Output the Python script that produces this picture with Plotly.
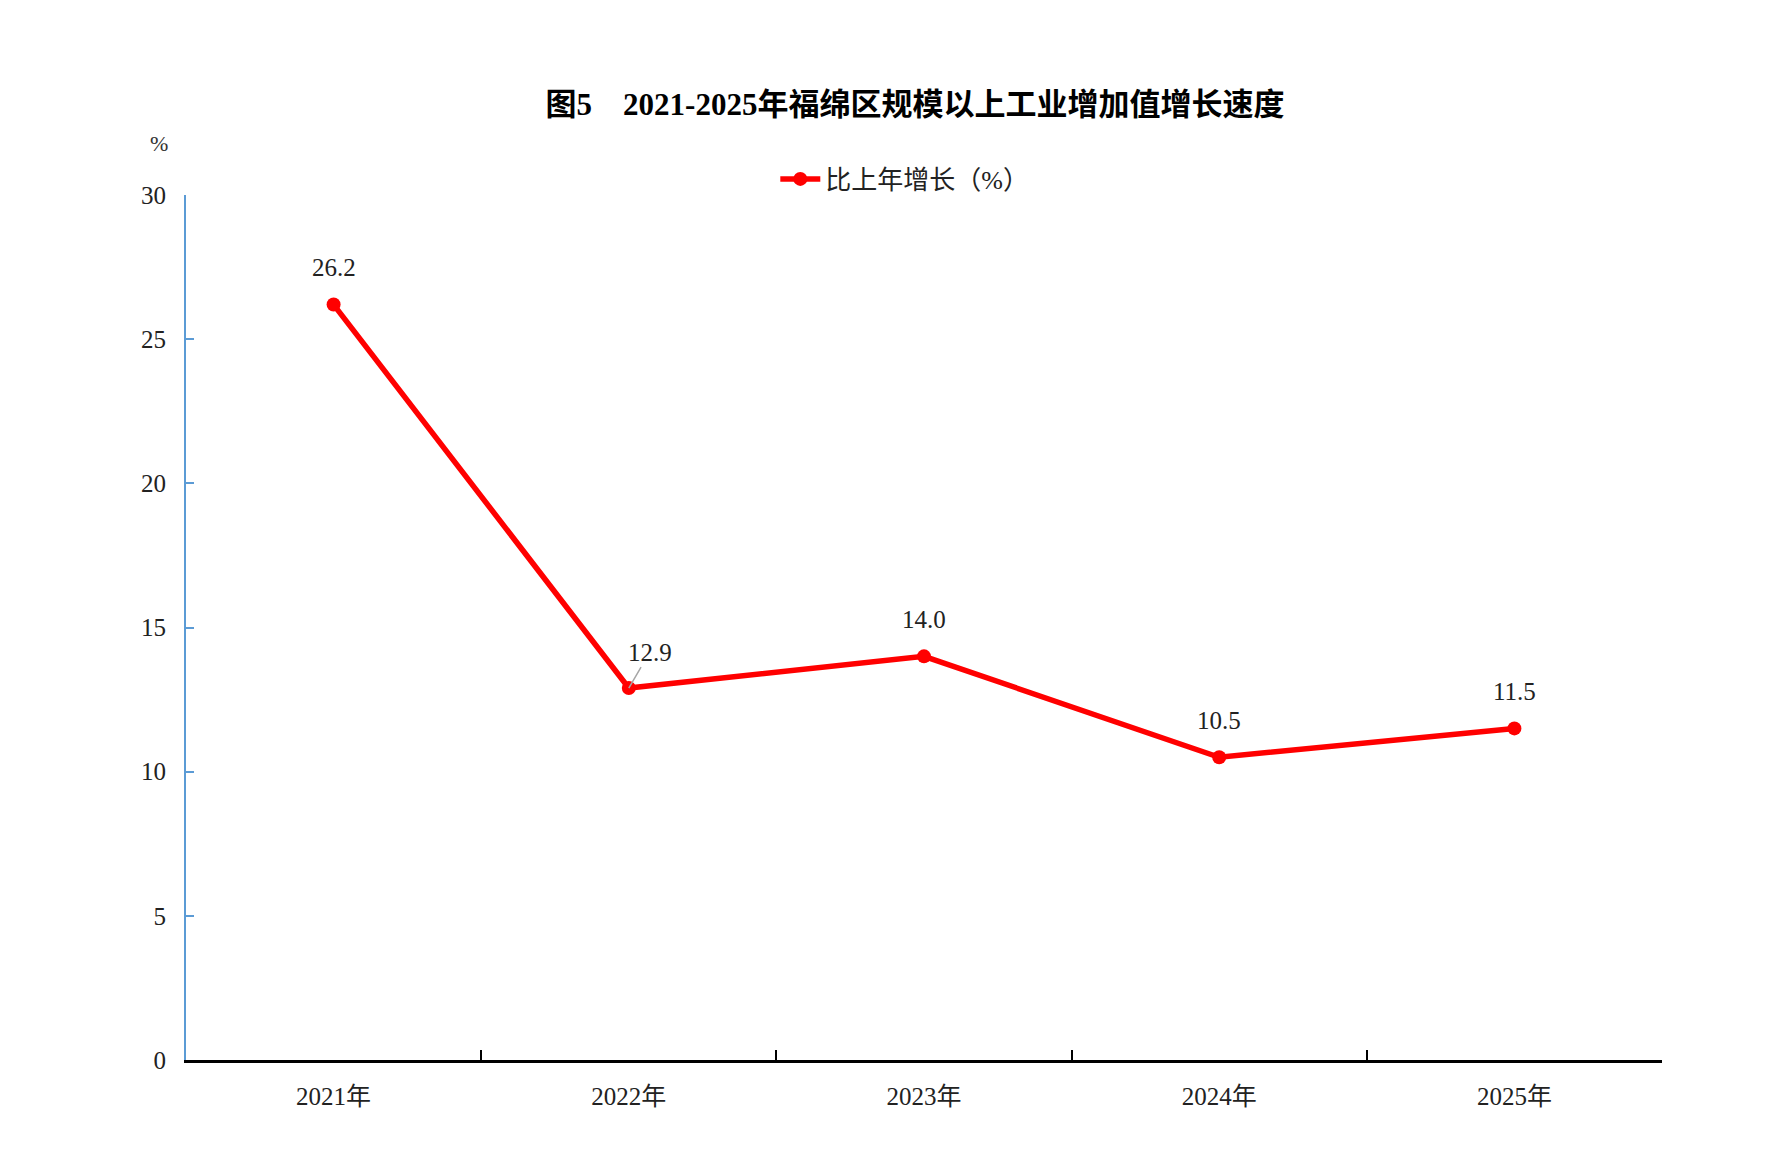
import plotly.graph_objects as go

# data
years = ["2021年", "2022年", "2023年", "2024年", "2025年"]
growth = [26.2, 12.9, 14.0, 10.5, 11.5]
series_name = "比上年增长（%）"
title_text = "<b>图5　2021-2025年福绵区规模以上工业增加值增长速度</b>"
y_ticks = [0, 5, 10, 15, 20, 25, 30]

FONT = "Liberation Serif, Noto Sans CJK SC"
RED = "#FF0000"

fig = go.Figure()
fig.add_trace(go.Scatter(x=years, y=growth, mode="lines+markers",
                         name=series_name,
                         line=dict(color=RED, width=5.5),
                         marker=dict(color=RED, size=14)))

# value labels, 2022 has a small leader line
for yr, v in zip(years, growth):
    if yr == "2022年":
        fig.add_annotation(x=yr, y=v, text=f"{v:.1f}", showarrow=True,
                           arrowhead=0, arrowwidth=1.5, arrowcolor="#A6A6A6",
                           ax=21, ay=-36, font=dict(size=25, color="#222"))
    else:
        fig.add_annotation(x=yr, y=v, text=f"{v:.1f}", showarrow=False,
                           yshift=37, font=dict(size=25, color="#222"))

# % unit above the y axis
fig.add_annotation(x=-0.026, y=1.076, xref="paper", yref="paper", text="%",
                   showarrow=False, font=dict(size=22, color="#333"))

fig.update_layout(
    width=1768, height=1167,
    template="simple_white",
    paper_bgcolor="white", plot_bgcolor="white",
    font=dict(family=FONT, size=25, color="#222"),
    margin=dict(l=178, r=114, t=187, b=115),
    title=dict(text=title_text, x=0.513, xanchor="center", y=0.918, yanchor="middle",
               font=dict(size=31, color="black", family=FONT)),
    showlegend=True,
    legend=dict(orientation="h", x=0.487, xanchor="center", y=1.0185, yanchor="middle",
                font=dict(size=26), itemwidth=40),
    xaxis=dict(type="category", range=[-0.5, 4.5], tickson="boundaries",
               showline=True, linecolor="black", linewidth=2.5,
               ticks="inside", ticklen=10, tickwidth=2, tickcolor="black",
               ticklabelstandoff=12, showgrid=False, zeroline=False),
    yaxis=dict(range=[0, 30], tickvals=y_ticks,
               showline=True, linecolor="#5B9BD5", linewidth=2,
               ticks="inside", ticklen=8, tickwidth=2, tickcolor="#5B9BD5",
               ticklabelstandoff=13, showgrid=False, zeroline=False),
)

fig.write_html("out.html")
